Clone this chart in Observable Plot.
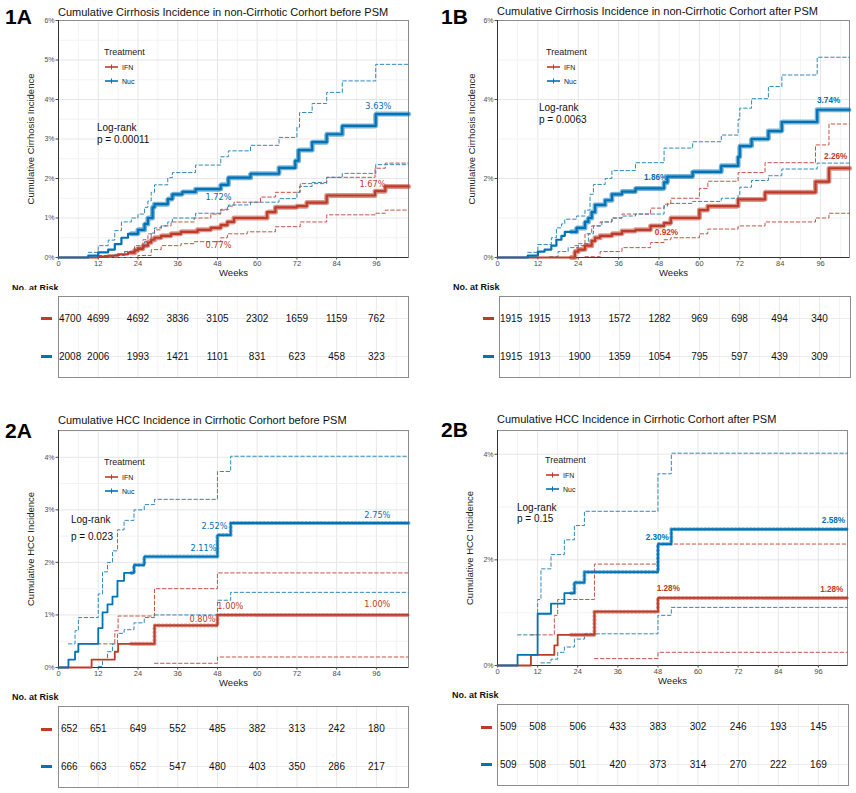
<!DOCTYPE html>
<html>
<head>
<meta charset="utf-8">
<script src="https://cdn.jsdelivr.net/npm/d3@7"></script>
<script src="https://cdn.jsdelivr.net/npm/@observablehq/plot@0.6"></script>
<style>
  body { margin: 0; background: #fff; }
  #root { position: relative; width: 856px; height: 793px; background: #fff; overflow: hidden; font-family: "Liberation Sans", Arial, sans-serif; }
  .abs { position: absolute; white-space: nowrap; transform: translateY(-50%); color: #111; }
  .plotbox { position: absolute; }
</style>
</head>
<body>
<div id="root"></div>
<script>
// ---------------- DATA ----------------
const groups = ["IFN", "Nuc"];
const riskWeeks = [0, 12, 24, 36, 48, 60, 72, 84, 96];
const xTicks = [0, 12, 24, 36, 48, 60, 72, 84, 96];

// Panel 1A: cumulative cirrhosis incidence (%), before PSM
const A1_nuc = [[0,0],[9,0.05],[12,0.13],[15,0.2],[17,0.34],[19,0.5],[21,0.6],[24,0.7],[26,0.85],[27,1.0],[28.4,1.27],[29,1.35],[33,1.48],[34.4,1.6],[37.4,1.66],[41.4,1.73],[49,1.84],[51.3,2.02],[58,2.12],[66.6,2.27],[71.5,2.45],[72.5,2.72],[76.6,2.92],[81,3.12],[85.7,3.33],[95.8,3.63],[105.7,3.63]];
const A1_nucHi = [[9,0.13],[12,0.3],[15,0.44],[17,0.68],[19,0.9],[22,1.0],[24,1.1],[26,1.27],[27,1.43],[28,1.65],[29,1.84],[33,2.02],[34.4,2.15],[41.4,2.34],[49,2.55],[51.3,2.7],[58,2.84],[66.6,3.04],[72,3.3],[72.8,3.67],[76.6,3.9],[81,4.18],[85.7,4.47],[95.8,4.89],[105.7,4.89]];
const A1_nucLo = [[12,0.02],[17,0.08],[20,0.15],[23,0.25],[26,0.4],[28,0.62],[29,0.75],[31,0.8],[33,0.9],[34.4,1.0],[41.4,1.12],[49,1.22],[51.3,1.33],[58,1.4],[66.6,1.49],[72,1.65],[72.8,1.8],[76.6,1.9],[81,2.03],[85.7,2.13],[95.8,2.35],[105.7,2.35]];
const A1_ifn = [[0,0],[12,0.02],[15,0.05],[18,0.08],[21,0.12],[23,0.18],[24,0.22],[25.5,0.3],[27,0.38],[28,0.45],[29,0.5],[31,0.55],[34,0.6],[37,0.65],[42,0.7],[46,0.75],[49,0.82],[51,0.9],[53,1.0],[63,1.15],[65.5,1.27],[72,1.3],[75,1.39],[81,1.57],[95.6,1.68],[98.7,1.8],[105.7,1.8]];
const A1_ifnHi = [[12,0.05],[20,0.15],[23,0.3],[25.5,0.45],[27,0.6],[29,0.7],[31,0.8],[34,0.9],[41,1.0],[46,1.1],[49,1.2],[51,1.3],[53,1.4],[61,1.53],[65.5,1.65],[73,1.87],[81,2.03],[95.6,2.26],[98.7,2.39],[105.7,2.39]];
const A1_ifnLo = [[15,0.0],[24,0.05],[28,0.2],[31,0.3],[37,0.35],[41,0.4],[49,0.5],[51,0.6],[57,0.65],[65.5,0.78],[73,0.9],[81,1.08],[95.6,1.12],[98.7,1.2],[105.7,1.2]];
const A1_labels = [
  {text:"3.63%", week:96.6, pct:3.82, group:"Nuc"},
  {text:"1.72%", week:48.3, pct:1.52, group:"Nuc"},
  {text:"1.67%", week:94.8, pct:1.85, group:"IFN"},
  {text:"0.77%", week:48.3, pct:0.30, group:"IFN"}
];
const A1_riskIFN = [4700,4699,4692,3836,3105,2302,1659,1159,762];
const A1_riskNuc = [2008,2006,1993,1421,1101,831,623,458,323];

// Panel 1B: after PSM
const B1_nuc = [[0,0],[9,0.05],[12,0.15],[14,0.2],[16,0.3],[17.5,0.45],[19,0.55],[20,0.65],[23.5,0.75],[26,0.9],[27,1.0],[28,1.15],[29,1.33],[32,1.45],[34,1.6],[37,1.67],[41,1.75],[49.5,1.9],[50.5,2.05],[58,2.17],[66.5,2.32],[71.5,2.55],[72,2.82],[75.5,3.0],[80.5,3.2],[84.5,3.43],[95,3.74],[104.6,3.74]];
const B1_nucHi = [[9,0.13],[12,0.33],[16,0.5],[17.5,0.75],[19,0.85],[20,0.97],[23.5,1.05],[26,1.2],[27.5,1.6],[28.5,1.85],[32,2.0],[34,2.2],[41,2.4],[49.5,2.77],[58,2.93],[66.5,3.1],[71.5,3.5],[72,3.78],[75.5,4.02],[80.5,4.33],[84.5,4.62],[95,5.07],[104.6,5.07]];
const B1_nucLo = [[15.5,0.02],[18,0.15],[21,0.25],[24,0.35],[27,0.6],[28.5,0.8],[31,0.9],[34,1.0],[37,1.05],[41,1.1],[49.5,1.3],[50.5,1.37],[58,1.42],[66.5,1.5],[71.5,1.6],[72,1.78],[75.5,1.95],[80.5,2.07],[84.5,2.24],[95,2.39],[104.6,2.39]];
const B1_ifn = [[0,0],[23,0.15],[24,0.2],[26,0.3],[28,0.42],[29,0.5],[30.5,0.55],[34,0.6],[37,0.67],[41,0.7],[45.5,0.8],[49.5,0.87],[51.5,1.0],[60,1.2],[62.5,1.3],[71.5,1.47],[79.5,1.65],[94.5,1.92],[98.5,2.26],[104.6,2.26]];
const B1_ifnHi = [[23,0.3],[26,0.6],[28,0.8],[30.5,0.9],[34,1.0],[37,1.1],[45.5,1.25],[49.5,1.35],[51.5,1.5],[60,1.75],[62.5,1.93],[71.5,2.15],[79.5,2.4],[94.5,2.85],[98.5,3.38],[104.6,3.38]];
const B1_ifnLo = [[26,0.02],[30.5,0.15],[37,0.25],[45.5,0.38],[49.5,0.45],[51.5,0.5],[60,0.6],[62.5,0.72],[71.5,0.8],[79.5,0.9],[94.5,1.0],[98.5,1.12],[104.6,1.12]];
const B1_labels = [
  {text:"1.86%", week:47.0, pct:2.03, group:"Nuc"},
  {text:"3.74%", week:98.4, pct:3.97, group:"Nuc"},
  {text:"2.26%", week:100.5, pct:2.56, group:"IFN"},
  {text:"0.92%", week:50.2, pct:0.63, group:"IFN"}
];
const B1_riskIFN = [1915,1915,1913,1572,1282,969,698,494,340];
const B1_riskNuc = [1915,1913,1900,1359,1054,795,597,439,309];

// Panel 2A: cumulative HCC incidence (%), before PSM
const A2_nuc = [[0,0],[3,0.15],[5,0.3],[6,0.45],[12,0.75],[13.3,1.05],[14.8,1.2],[16.3,1.35],[17.8,1.65],[19.8,1.8],[22.8,1.95],[25.9,2.11],[48,2.52],[52,2.75],[105.7,2.75]];
const A2_nucHi = [[3,0.45],[5,0.7],[6,0.95],[12,1.4],[13.3,1.82],[14.8,2.0],[16.3,2.22],[17.8,2.62],[19.8,2.8],[22.8,3.0],[25.9,3.1],[29,3.2],[48,3.73],[52,4.02],[105.7,4.02]];
const A2_nucLo = [[12,0.02],[13.3,0.15],[14.8,0.3],[16.3,0.45],[17.8,0.65],[19.8,0.72],[22.8,0.85],[25.9,0.95],[29,1.0],[48,1.28],[52,1.43],[105.7,1.43]];
const A2_ifn = [[0,0],[10,0.15],[17,0.3],[18,0.45],[29,0.8],[48,1.0],[105.7,1.0]];
const A2_ifnHi = [[10,0.45],[17,0.7],[18,0.98],[29,1.5],[48,1.8],[105.7,1.8]];
const A2_ifnLo = [[29,0.08],[48,0.2],[105.7,0.2]];
const A2_labels = [
  {text:"2.52%", week:47.1, pct:2.69, group:"Nuc"},
  {text:"2.11%", week:43.8, pct:2.27, group:"Nuc"},
  {text:"2.75%", week:96.3, pct:2.90, group:"Nuc"},
  {text:"1.00%", week:51.9, pct:1.16, group:"IFN"},
  {text:"0.80%", week:43.5, pct:0.91, group:"IFN"},
  {text:"1.00%", week:96.3, pct:1.20, group:"IFN"}
];
const A2_riskIFN = [652,651,649,552,485,382,313,242,180];
const A2_riskNuc = [666,663,652,547,480,403,350,286,217];

// Panel 2B: after PSM
const B2_nuc = [[0,0],[6,0.2],[12,0.98],[16,1.17],[20,1.37],[23,1.57],[26,1.77],[48,2.3],[52,2.58],[104.7,2.58]];
const B2_nucHi = [[6,0.58],[12,1.25],[13,1.83],[16,2.1],[20,2.38],[23,2.65],[26,2.92],[48,3.63],[52,4.02],[104.7,4.02]];
const B2_nucLo = [[13,0.05],[16,0.12],[18,0.25],[20,0.35],[23,0.5],[26,0.6],[48,0.95],[52,1.1],[104.7,1.1]];
const B2_ifn = [[0,0],[10,0.2],[17,0.38],[18,0.58],[29,1.02],[48,1.28],[104.7,1.28]];
const B2_ifnHi = [[10,0.58],[17,0.95],[18,1.25],[29,1.92],[48,2.3],[104.7,2.3]];
const B2_ifnLo = [[29,0.13],[48,0.25],[104.7,0.25]];
const B2_labels = [
  {text:"2.30%", week:47.8, pct:2.43, group:"Nuc"},
  {text:"2.58%", week:100.5, pct:2.75, group:"Nuc"},
  {text:"1.28%", week:51.1, pct:1.46, group:"IFN"},
  {text:"1.28%", week:100.0, pct:1.44, group:"IFN"}
];
const B2_riskIFN = [509,508,506,433,383,302,246,193,145];
const B2_riskNuc = [509,508,501,420,373,314,270,222,169];

// ---------------- STYLE ----------------
const colors = {IFN: "#BC3C29", Nuc: "#0072B5"};
const ciColors = {IFN: "#c4544a", Nuc: "#3288b8"};
const censorFrom = 22;

const root = document.getElementById("root");

function addText(x, y, text, css) {
  const d = document.createElement("div");
  d.className = "abs";
  d.style.left = x + "px";
  d.style.top = y + "px";
  d.textContent = text;
  Object.assign(d.style, css || {});
  root.appendChild(d);
  return d;
}

function addLegend(x, y) {
  addText(x, y, "Treatment", {fontSize: "9px", color: "#222"});
  groups.forEach((g, i) => {
    const yy = y + 14.5 + i * 14.5;
    const s = document.createElementNS("http://www.w3.org/2000/svg", "svg");
    s.setAttribute("width", 13); s.setAttribute("height", 8);
    s.style.position = "absolute"; s.style.left = (x + 1) + "px"; s.style.top = (yy - 4) + "px";
    s.innerHTML = `<line x1="0" y1="4" x2="13" y2="4" stroke="${colors[g]}" stroke-width="1.6"/><line x1="6.5" y1="1.5" x2="6.5" y2="6.5" stroke="${colors[g]}" stroke-width="1"/>`;
    root.appendChild(s);
    addText(x + 18, yy, g, {fontSize: "7px", color: "#222"});
  });
}

function addRowKeys(x, ys) {
  groups.forEach((g, i) => {
    const d = document.createElement("div");
    d.style.position = "absolute";
    d.style.left = x + "px"; d.style.top = (ys[i] - 1.5) + "px";
    d.style.width = "11px"; d.style.height = "3px";
    d.style.background = colors[g];
    root.appendChild(d);
  });
}

function place(node, left, top) {
  const box = document.createElement("div");
  box.className = "plotbox";
  box.style.left = left + "px"; box.style.top = top + "px";
  box.appendChild(node);
  root.appendChild(box);
}

function censorPart(series) {
  // the part of a step series from censorFrom onwards (step value at censorFrom)
  let v = 0;
  for (const p of series) if (p[0] <= censorFrom) v = p[1];
  return [[censorFrom, v], ...series.filter(p => p[0] > censorFrom)];
}

function mainPlot(cfg) {
  const lines = [];
  for (const g of groups) {
    const s = cfg.series[g];
    lines.push(Plot.line(s.hi, {x: d => d[0], y: d => d[1], curve: "step-after", stroke: ciColors[g], strokeWidth: 1, strokeDasharray: "3.5,2.5"}));
    lines.push(Plot.line(s.lo, {x: d => d[0], y: d => d[1], curve: "step-after", stroke: ciColors[g], strokeWidth: 1, strokeDasharray: "3.5,2.5"}));
  }
  for (const g of groups) {
    const s = cfg.series[g];
    lines.push(Plot.line(s.est, {x: d => d[0], y: d => d[1], curve: "step-after", stroke: colors[g], strokeWidth: cfg.lineWidth}));
    lines.push(Plot.line(censorPart(s.est), {x: d => d[0], y: d => d[1], curve: "step-after", stroke: colors[g], strokeWidth: cfg.censorWidth, strokeDasharray: cfg.censorDash, strokeOpacity: 0.55}));
  }
  const xmax = cfg.xmax;
  return Plot.plot({
    width: cfg.w, height: cfg.h,
    marginTop: cfg.mt, marginRight: cfg.mr, marginBottom: cfg.mb, marginLeft: cfg.ml,
    x: {domain: [0, xmax]},
    y: {domain: [0, cfg.ymax]},
    style: {fontFamily: "'Liberation Sans', Arial, sans-serif", background: "white", overflow: "visible"},
    marks: [
      Plot.gridX(d3.range(6, xmax, 12), {stroke: "#f2f2f2", strokeOpacity: 1}),
      Plot.gridX(d3.range(0, xmax, 12), {stroke: "#e6e6e6", strokeOpacity: 1}),
      Plot.gridY(cfg.yMinor, {stroke: "#f2f2f2", strokeOpacity: 1}),
      Plot.gridY(cfg.yTicks, {stroke: "#e6e6e6", strokeOpacity: 1}),
      Plot.frame({stroke: "#8c8c8c"}),
      Plot.ruleX([0], {stroke: "#333", strokeWidth: 1}),
      Plot.ruleY([0], {stroke: "#333", strokeWidth: 1}),
      Plot.axisX({ticks: xTicks, tickSize: 2.5, tickPadding: 1, fontSize: 7.5, color: "#4d4d4d", label: null}),
      Plot.axisY({ticks: cfg.yTicks, tickFormat: d => d + "%", tickSize: 2.5, tickPadding: 1.5, fontSize: 7, color: "#4d4d4d", label: null}),
      ...lines,
      Plot.text(cfg.labels, {x: "week", y: "pct", text: "text", fill: d => colors[d.group],
        fontSize: 8.2, fontWeight: cfg.labelWeight, fontFamily: cfg.labelFont}),
      Plot.text([cfg.ylabel], {frameAnchor: "left", textAnchor: "middle", rotate: -90, dx: -cfg.ylabelOffset, fontSize: 9.5, fill: "#222"}),
      Plot.text(["Weeks"], {frameAnchor: "bottom", dy: 18, fontSize: 9.5, fill: "#222"})
    ]
  });
}

function riskPlot(cfg) {
  const rows = [];
  groups.forEach(g => riskWeeks.forEach((w, i) => rows.push({group: g, week: w, n: cfg.risk[g][i]})));
  return Plot.plot({
    width: cfg.w, height: cfg.h,
    marginTop: cfg.mt, marginRight: cfg.mr, marginBottom: cfg.mb, marginLeft: cfg.ml,
    x: {domain: [0, cfg.xmax], axis: null},
    y: {domain: groups, axis: null, type: "point", padding: 0.55},
    style: {fontFamily: "'Liberation Sans', Arial, sans-serif", background: "white", overflow: "visible"},
    marks: [
      Plot.gridX(d3.range(6, cfg.xmax, 12), {stroke: "#f3f3f3", strokeOpacity: 1}),
      Plot.gridX(d3.range(0, cfg.xmax, 12), {stroke: "#e9e9e9", strokeOpacity: 1}),
      Plot.gridY(groups, {stroke: "#ececec", strokeOpacity: 1}),
      Plot.frame({stroke: "#8c8c8c"}),
      Plot.text(rows.filter(d => d.week === 0), {x: "week", y: "group", text: d => String(d.n), textAnchor: "start", dx: cfg.firstDx, fontSize: 10, fill: "#111"}),
      Plot.text(rows.filter(d => d.week !== 0), {x: "week", y: "group", text: d => String(d.n), fontSize: 10, fill: "#111"})
    ]
  });
}

const titleCss = {fontSize: "11px", color: "#111"};
const tagCss = {fontSize: "21px", fontWeight: "bold", color: "#000"};
const riskHeadCss = {fontSize: "9px", fontWeight: "bold", color: "#111"};
const lrCss = {fontSize: "10px", color: "#111", lineHeight: "12px"};

// ---------- Panel 1A ----------
place(mainPlot({w: 428, h: 285, mt: 20, mr: 20, mb: 28, ml: 58, xmax: 105.7, ymax: 6,
  yTicks: [0,1,2,3,4,5,6], yMinor: [0.5,1.5,2.5,3.5,4.5,5.5],
  series: {IFN: {est: A1_ifn, hi: A1_ifnHi, lo: A1_ifnLo}, Nuc: {est: A1_nuc, hi: A1_nucHi, lo: A1_nucLo}},
  labels: A1_labels, labelWeight: "normal", labelFont: "'DejaVu Sans', sans-serif",
  ylabel: "Cumulative Cirrhosis Incidence", ylabelOffset: 28, lineWidth: 2.2, censorWidth: 5, censorDash: "0.8,1.6"}), 0, 0);
addText(5, 17, "1A", tagCss);
addText(58, 12, "Cumulative Cirrhosis Incidence in non-Cirrhotic Corhort before PSM", titleCss);
addLegend(104, 52);
addText(97, 128, "Log-rank", lrCss);
addText(97, 140, "p = 0.00011", lrCss);
addText(12, 288, "No. at Risk", riskHeadCss);
place(riskPlot({w: 428, h: 95, mt: 6, mr: 20, mb: 8, ml: 58, xmax: 105.7, firstDx: 0.5,
  risk: {IFN: A1_riskIFN, Nuc: A1_riskNuc}}), 0, 290);
addRowKeys(41, [318, 356]);

// ---------- Panel 1B ----------
place(mainPlot({w: 428, h: 285, mt: 20, mr: 7, mb: 28, ml: 69, xmax: 104.6, ymax: 6,
  yTicks: [0,2,4,6], yMinor: [1,3,5],
  series: {IFN: {est: B1_ifn, hi: B1_ifnHi, lo: B1_ifnLo}, Nuc: {est: B1_nuc, hi: B1_nucHi, lo: B1_nucLo}},
  labels: B1_labels, labelWeight: "bold", labelFont: "'Liberation Sans', Arial, sans-serif",
  ylabel: "Cumulative Cirrhosis Incidence", ylabelOffset: 26, lineWidth: 2.2, censorWidth: 5, censorDash: "0.8,1.6"}), 428, 0);
addText(441, 17, "1B", tagCss);
addText(497, 11, "Cumulative Cirrhosis Incidence in non-Cirrhotic Corhort after PSM", titleCss);
addLegend(546, 52);
addText(539, 108, "Log-rank", lrCss);
addText(539, 120, "p = 0.0063", lrCss);
addText(453, 287, "No. at Risk", riskHeadCss);
place(riskPlot({w: 428, h: 95, mt: 6, mr: 6, mb: 8, ml: 71, xmax: 105.3, firstDx: 0.5,
  risk: {IFN: B1_riskIFN, Nuc: B1_riskNuc}}), 428, 290);
addRowKeys(483, [318, 356]);

// ---------- Panel 2A ----------
place(mainPlot({w: 428, h: 290, mt: 30, mr: 20, mb: 23, ml: 58, xmax: 105.7, ymax: 4.51,
  yTicks: [0,1,2,3,4], yMinor: [0.5,1.5,2.5,3.5,4.5],
  series: {IFN: {est: A2_ifn, hi: A2_ifnHi, lo: A2_ifnLo}, Nuc: {est: A2_nuc, hi: A2_nucHi, lo: A2_nucLo}},
  labels: A2_labels, labelWeight: "normal", labelFont: "'DejaVu Sans', sans-serif",
  ylabel: "Cumulative HCC Incidence", ylabelOffset: 28, lineWidth: 1.8, censorWidth: 4, censorDash: "0.8,3"}), 0, 400);
addText(5, 431, "2A", tagCss);
addText(58, 420, "Cumulative HCC Incidence in Cirrhotic Corhort before PSM", titleCss);
addLegend(104, 462);
addText(71, 520, "Log-rank", lrCss);
addText(71, 537, "p = 0.023", lrCss);
addText(12, 697, "No. at Risk", riskHeadCss);
place(riskPlot({w: 428, h: 93, mt: 6, mr: 20, mb: 6, ml: 58, xmax: 105.7, firstDx: 2.5,
  risk: {IFN: A2_riskIFN, Nuc: A2_riskNuc}}), 0, 700);
addRowKeys(41, [729, 766]);

// ---------- Panel 2B ----------
place(mainPlot({w: 428, h: 290, mt: 30, mr: 9, mb: 25, ml: 69, xmax: 104.7, ymax: 4.45,
  yTicks: [0,2,4], yMinor: [1,3],
  series: {IFN: {est: B2_ifn, hi: B2_ifnHi, lo: B2_ifnLo}, Nuc: {est: B2_nuc, hi: B2_nucHi, lo: B2_nucLo}},
  labels: B2_labels, labelWeight: "bold", labelFont: "'Liberation Sans', Arial, sans-serif",
  ylabel: "Cumulative HCC Incidence", ylabelOffset: 28, lineWidth: 1.8, censorWidth: 4, censorDash: "0.8,3"}), 428, 400);
addText(441, 430, "2B", tagCss);
addText(497, 419, "Cumulative HCC Incidence in Cirrhotic Corhort after PSM", titleCss);
addLegend(545, 460);
addText(517, 508, "Log-rank", lrCss);
addText(517, 519, "p = 0.15", lrCss);
addText(452, 695, "No. at Risk", riskHeadCss);
place(riskPlot({w: 428, h: 95, mt: 6, mr: 8, mb: 8, ml: 69, xmax: 105, firstDx: 2.5,
  risk: {IFN: B2_riskIFN, Nuc: B2_riskNuc}}), 428, 698);
addRowKeys(481, [727, 764]);
</script>
</body>
</html>
